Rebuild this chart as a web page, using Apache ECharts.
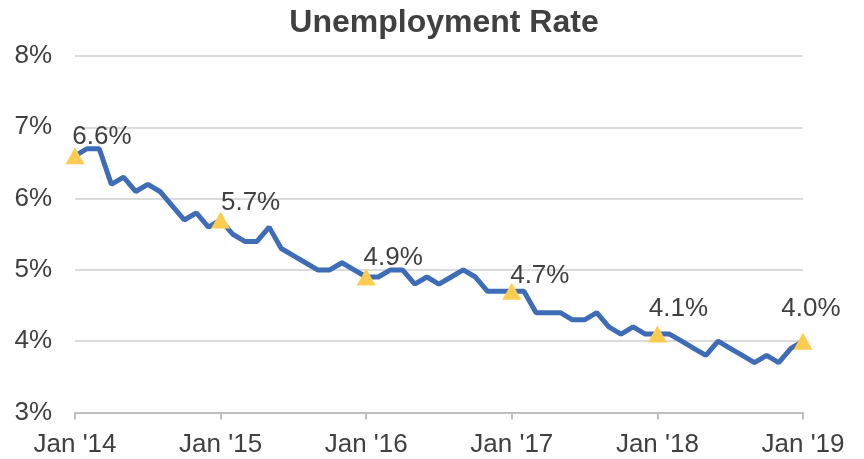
<!DOCTYPE html>
<html>
<head>
<meta charset="utf-8">
<script src="https://cdn.jsdelivr.net/npm/echarts@6/dist/echarts.min.js"></script>
<style>
  html, body { margin: 0; padding: 0; background: #fff; }
  #chart { width: 864px; height: 459px; }
</style>
</head>
<body>
<div id="chart"></div>
<script>
// Monthly unemployment rate (%), Jan 2014 through Jan 2019
const years = ['14', '15', '16', '17', '18', '19'];
const monthNames = ['Jan', 'Feb', 'Mar', 'Apr', 'May', 'Jun', 'Jul', 'Aug', 'Sep', 'Oct', 'Nov', 'Dec'];
const rate2014 = [6.6, 6.7, 6.7, 6.2, 6.3, 6.1, 6.2, 6.1, 5.9, 5.7, 5.8, 5.6];
const rate2015 = [5.7, 5.5, 5.4, 5.4, 5.6, 5.3, 5.2, 5.1, 5.0, 5.0, 5.1, 5.0];
const rate2016 = [4.9, 4.9, 5.0, 5.0, 4.8, 4.9, 4.8, 4.9, 5.0, 4.9, 4.7, 4.7];
const rate2017 = [4.7, 4.7, 4.4, 4.4, 4.4, 4.3, 4.3, 4.4, 4.2, 4.1, 4.2, 4.1];
const rate2018 = [4.1, 4.1, 4.0, 3.9, 3.8, 4.0, 3.9, 3.8, 3.7, 3.8, 3.7, 3.9];
const rate2019 = [4.0];
const yTicks = [3, 4, 5, 6, 7, 8];

const rates = [].concat(rate2014, rate2015, rate2016, rate2017, rate2018, rate2019);
const categories = [];
years.forEach(y => monthNames.forEach(m => categories.push(m + " '" + y)));
categories.length = rates.length;

const FONT = 'Liberation Sans, Arial, sans-serif';

// January points get a triangle marker and a value label
const labelOffsets = [[27, 8], [30, 9], [27, 7], [28, 11], [21, 1], [8, -6]];
const seriesData = rates.map((v, i) => {
  if (i % 12 !== 0) return { value: v, symbol: 'none' };
  const off = labelOffsets[i / 12];
  return {
    value: v,
    symbol: 'triangle',
    symbolSize: [19, 17],
    itemStyle: { color: '#FFCC52' },
    label: {
      show: true,
      position: 'top',
      offset: off,
      formatter: p => p.value.toFixed(1) + '%',
      fontFamily: FONT,
      fontSize: 26,
      color: '#404040'
    }
  };
});

const chart = echarts.init(document.getElementById('chart'), null, { renderer: 'canvas' });
chart.setOption({
  animation: false,
  backgroundColor: '#ffffff',
  title: {
    text: 'Unemployment Rate',
    left: 439,
    textAlign: 'center',
    top: 2,
    textStyle: {
      fontFamily: FONT,
      fontSize: 32,
      fontWeight: 'bold',
      color: '#404040'
    }
  },
  grid: { left: 75, right: 61, top: 56, bottom: 46.5, containLabel: false },
  xAxis: {
    type: 'category',
    data: categories,
    boundaryGap: false,
    axisLine: { lineStyle: { color: '#BFBFBF', width: 2 } },
    axisTick: { interval: 11, length: 7, lineStyle: { color: '#BFBFBF', width: 2 } },
    axisLabel: {
      interval: 11,
      margin: 19,
      fontFamily: FONT,
      fontSize: 26,
      color: '#404040'
    },
    splitLine: { show: false }
  },
  yAxis: {
    type: 'value',
    min: yTicks[0],
    max: yTicks[yTicks.length - 1],
    interval: 1,
    axisLine: { show: false },
    axisTick: { show: false },
    axisLabel: {
      formatter: '{value}%',
      margin: 23,
      fontFamily: FONT,
      fontSize: 26,
      color: '#404040'
    },
    splitLine: { lineStyle: { color: '#CFCFCF', width: 1.5 } }
  },
  series: [{
    type: 'line',
    data: seriesData,
    showSymbol: true,
    lineStyle: { color: '#3F6CB7', width: 5 },
    itemStyle: { color: '#FFCC52' },
    z: 3
  }]
});
</script>
</body>
</html>
